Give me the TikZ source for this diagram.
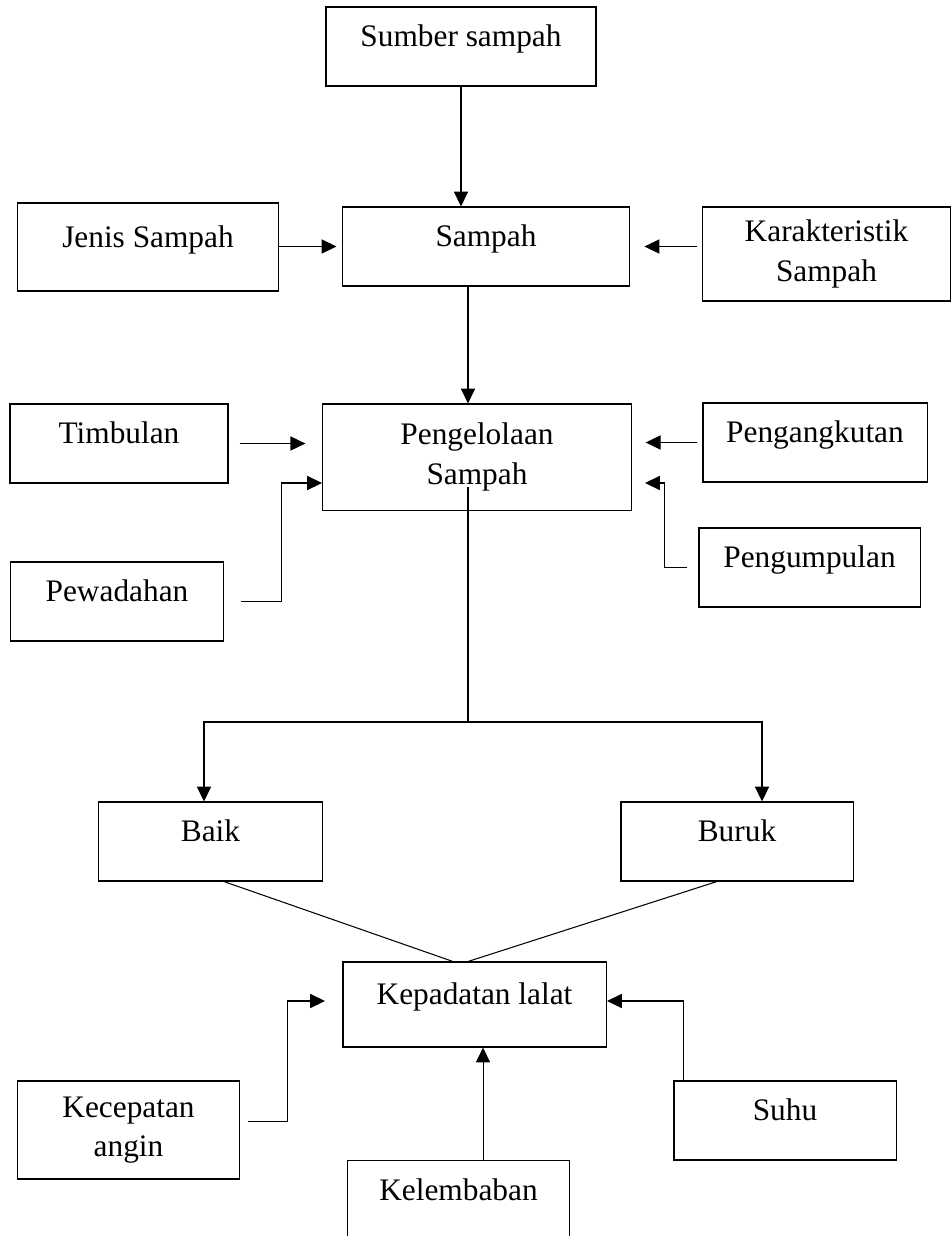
\documentclass[tikz,border=0pt]{standalone}
\usepackage{fontspec}
\setmainfont{Liberation Serif}
\usetikzlibrary{arrows.meta}
\begin{document}
\begin{tikzpicture}[x=0.01346cm, y=-0.01346cm,
    box/.style={draw, rectangle, inner sep=0pt, align=center, font=\fontsize{12}{15}\selectfont},
    one/.style={box, text height=9pt, text depth=9pt},
    arr/.style={-{Triangle[length=0.2cm, width=0.19cm]}}]
    \clip (0,0) rectangle (951,1236);
    % boxes
    \node[one, minimum width=3.634cm, minimum height=1.063cm] (sumber) at (461,46.5) {Sumber sampah};
    \node[one, minimum width=3.850cm, minimum height=1.063cm] (sampah) at (486,246.5) {Sampah};
    \node[one, minimum width=3.500cm, minimum height=1.184cm] (jenis) at (148,247) {Jenis Sampah};
    \node[box, minimum width=3.325cm, minimum height=1.265cm] (karakter) at (826.5,254) {Karakteristik\\Sampah};
    \node[box, minimum width=4.146cm, minimum height=1.427cm] (kelola) at (477,457) {Pengelolaan\\Sampah};
    \node[one, minimum width=2.934cm, minimum height=1.063cm] (timbulan) at (119,443.5) {Timbulan};
    \node[one, minimum width=3.015cm, minimum height=1.063cm] (angkut) at (815,442.5) {Pengangkutan};
    \node[one, minimum width=2.854cm, minimum height=1.063cm] (wadah) at (117,601.5) {Pewadahan};
    \node[one, minimum width=2.975cm, minimum height=1.063cm] (kumpul) at (809.5,567.5) {Pengumpulan};
    \node[one, minimum width=3.002cm, minimum height=1.063cm] (baik) at (210.5,841.5) {Baik};
    \node[one, minimum width=3.123cm, minimum height=1.063cm] (buruk) at (737,841.5) {Buruk};
    \node[one, minimum width=3.540cm, minimum height=1.144cm] (lalat) at (474.5,1004.5) {Kepadatan lalat};
    \node[box, minimum width=2.975cm, minimum height=1.319cm] (angin) at (128.5,1130) {Kecepatan\\angin};
    \node[one, minimum width=2.988cm, minimum height=1.063cm] (suhu) at (785,1120.5) {Suhu};
    \node[one, minimum width=2.975cm, minimum height=1.063cm] (lembab) at (458.5,1200) {Kelembaban};
    % free ends
    \coordinate (split) at (468,487);
    \coordinate (fork) at (468,722);
    \coordinate (wadahin) at (322,483);
    \coordinate (kumpulin) at (645,483);
    \coordinate (anginin) at (325,1001);
    \coordinate (suhuin) at (607,1001);
    % connectors
    \draw[arr] (sumber.south) -- (sumber.south |- sampah.north);
    \draw[arr, shorten >=0.08cm] (jenis.east |- sampah.west) -- (sampah.west);
    \draw[arr, shorten <=0.07cm, shorten >=0.2cm] (karakter.west |- sampah.east) -- (sampah.east);
    \draw[arr] (fork |- sampah.south) -- (fork |- kelola.north);
    \draw[arr, shorten <=0.15cm, shorten >=0.23cm] (timbulan.east) -- (kelola.west |- timbulan.east);
    \draw[arr, shorten <=0.07cm, shorten >=0.19cm] (angkut.west) -- (kelola.east |- angkut.west);
    \draw[arr, shorten <=0.23cm] (wadah.east) -- ++(58,0) |- (wadahin);
    \draw[arr, shorten <=0.15cm] (kumpul.west) -- ++(-34,0) |- (kumpulin);
    \draw (split) -- (fork);
    \draw[arr] (fork) -| ([xshift=-0.0875cm]baik.north);
    \draw[arr] (fork) -| ([xshift=0.3365cm]buruk.north);
    \draw ([xshift=0.18cm]baik.south) -- ([xshift=-0.29cm]lalat.north);
    \draw ([xshift=-0.27cm]buruk.south) -- ([xshift=-0.0875cm]lalat.north);
    \draw[arr, shorten <=0.12cm] ([yshift=0.12cm]angin.east) -- ++(48,0) |- (anginin);
    \draw[arr] ([xshift=-1.36cm]suhu.north) |- (suhuin);
    \draw[arr] ([xshift=0.33cm]lembab.north) -- ([xshift=0.33cm]lembab.north |- lalat.south);
\end{tikzpicture}
\end{document}
